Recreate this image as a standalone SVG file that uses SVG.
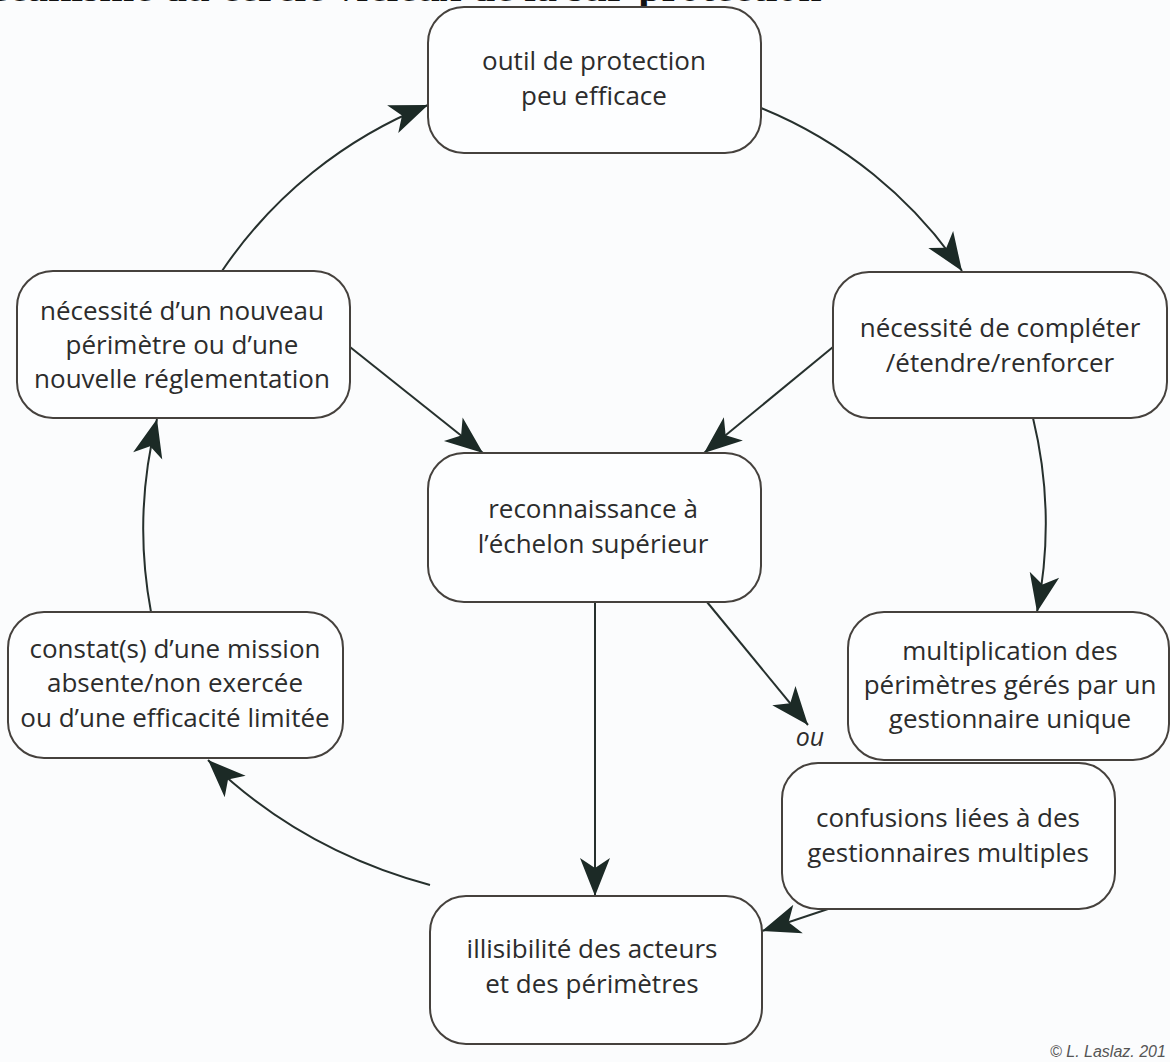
<svg xmlns="http://www.w3.org/2000/svg" width="1170" height="1062" viewBox="0 0 1170 1062">
  <style>
    .box { fill: #fdfeff; stroke: #45413d; stroke-width: 2; }
    .lbl { font-family: "Open Sans", "Noto Sans", "DejaVu Sans", sans-serif; font-size: 26px; fill: #2c2c2c; text-anchor: middle; }
    .edge { fill: none; stroke: #26302d; stroke-width: 2; marker-end: url(#head); }
    .title { font-family: "Liberation Serif", "Times New Roman", serif; font-weight: bold; font-size: 42px; fill: #111; }
    .ou { font-family: "Open Sans", "Noto Sans", sans-serif; font-style: italic; font-size: 25px; fill: #2c2c2c; text-anchor: middle; }
    .copy { font-family: "Liberation Sans", Arial, sans-serif; font-style: italic; font-size: 16px; fill: #555; }
  </style>
  <defs>
    <marker id="head" viewBox="-39 -16 40 32" refX="0" refY="0" markerWidth="40" markerHeight="32" markerUnits="userSpaceOnUse" orient="auto">
      <path d="M0,0 L-38,-15 L-28,0 L-38,15 Z" fill="#1c2a26"/>
    </marker>
  </defs>
  <rect x="0" y="0" width="1170" height="1062" fill="#fbfcfd"/>
  <text class="title" x="-50" y="1">Mécanisme du cercle vicieux de la sur-protection</text>

  <g id="connectors">
    <path class="edge" d="M222,271 A450,450 0 0 1 428,105"/>
    <path class="edge" d="M761,108 A445,445 0 0 1 962,271"/>
    <path class="edge" d="M1033,418 A450,450 0 0 1 1037,612"/>
    <path class="edge" d="M833,347 L704,453"/>
    <path class="edge" d="M350,347 L483,453"/>
    <path class="edge" d="M595,602 L595,896"/>
    <path class="edge" d="M707,602 L808,725"/>
    <path class="edge" d="M831,908 L762,931"/>
    <path class="edge" d="M430,885 Q300,850 208,760"/>
    <path class="edge" d="M151,612 A450,450 0 0 1 157,419"/>
    <text class="ou" x="810" y="746">ou</text>
  </g>

  <g id="n-outil">
    <rect class="box" x="428" y="7" width="333" height="146" rx="36"/>
    <text class="lbl" x="594" y="70">outil de protection</text>
    <text class="lbl" x="594" y="105">peu efficace</text>
  </g>
  <g id="n-nouveau">
    <rect class="box" x="17" y="271" width="333" height="147" rx="36"/>
    <text class="lbl" x="182" y="320">nécessité d’un nouveau</text>
    <text class="lbl" x="182" y="354">périmètre ou d’une</text>
    <text class="lbl" x="182" y="388">nouvelle réglementation</text>
  </g>
  <g id="n-completer">
    <rect class="box" x="833" y="272" width="334" height="146" rx="36"/>
    <text class="lbl" x="1000" y="337">nécessité de compléter</text>
    <text class="lbl" x="1000" y="372">/étendre/renforcer</text>
  </g>
  <g id="n-reconnaissance">
    <rect class="box" x="428" y="453" width="333" height="149" rx="36"/>
    <text class="lbl" x="593" y="518">reconnaissance à</text>
    <text class="lbl" x="593" y="553">l’échelon supérieur</text>
  </g>
  <g id="n-multiplication">
    <rect class="box" x="848" y="612" width="321" height="148" rx="36"/>
    <text class="lbl" x="1010" y="660">multiplication des</text>
    <text class="lbl" x="1010" y="694">périmètres gérés par un</text>
    <text class="lbl" x="1010" y="728">gestionnaire unique</text>
  </g>
  <g id="n-confusions">
    <rect class="box" x="782" y="763" width="333" height="146" rx="36"/>
    <text class="lbl" x="948" y="827">confusions liées à des</text>
    <text class="lbl" x="948" y="862">gestionnaires multiples</text>
  </g>
  <g id="n-illisibilite">
    <rect class="box" x="430" y="896" width="332" height="148" rx="36"/>
    <text class="lbl" x="592" y="958">illisibilité des acteurs</text>
    <text class="lbl" x="592" y="993">et des périmètres</text>
  </g>
  <g id="n-constat">
    <rect class="box" x="8" y="612" width="335" height="146" rx="36"/>
    <text class="lbl" x="175" y="658">constat(s) d’une mission</text>
    <text class="lbl" x="175" y="692">absente/non exercée</text>
    <text class="lbl" x="175" y="727">ou d’une efficacité limitée</text>
  </g>
  <text class="copy" x="1050" y="1057">© L. Laslaz. 201</text>
</svg>
